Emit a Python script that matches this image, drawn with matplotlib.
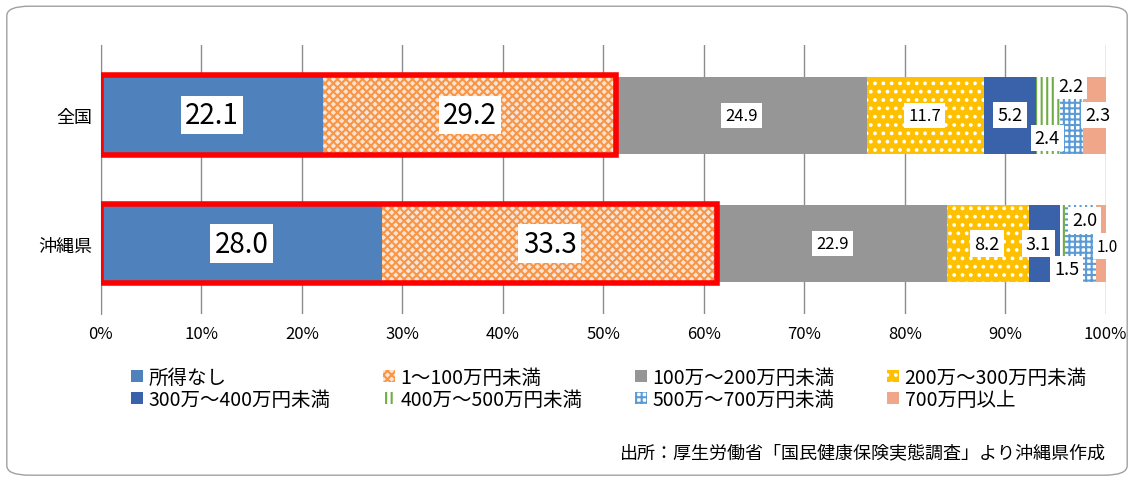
import matplotlib
matplotlib.use('Agg')
import matplotlib.pyplot as plt
from matplotlib.patches import Rectangle, FancyBboxPatch

plt.rcParams['font.family'] = ['Noto Sans CJK JP', 'DejaVu Sans']
plt.rcParams['hatch.linewidth'] = 1.5

regions = ['全国', '沖縄県']
categories = ['所得なし', '1～100万円未満', '100万～200万円未満', '200万～300万円未満',
              '300万～400万円未満', '400万～500万円未満', '500万～700万円未満', '700万円以上']
zenkoku = [22.1, 29.2, 24.9, 11.7, 5.2, 2.4, 2.2, 2.3]
okinawa = [28.0, 33.3, 22.9, 8.2, 3.1, 0.5, 3.0, 1.0]
okinawa_labels = ['28.0', '33.3', '22.9', '8.2', '3.1', '1.5', '2.0', '1.0']

faces = ['#4f81bd', '#fbe3d6', '#969696', '#ffc000', '#3a62aa', 'white', 'white', '#f0a689']
hatches = [None, 'xxxx', None, '..', None, '|||', '+++', None]
hcolors = [None, '#f79646', None, 'white', None, '#70ad47', '#5b9bd5', None]

fig = plt.figure(figsize=(11.34, 4.81), dpi=100)
frame = FancyBboxPatch((0.006, 0.01), 0.988, 0.975, boxstyle='round,pad=0,rounding_size=0.02',
                       transform=fig.transFigure, fc='white', ec='#a0a0a0', lw=1, zorder=-10)
fig.patches.append(frame)
ax = fig.add_axes([0.089, 0.345, 0.886, 0.56])
ax.set_facecolor('none')

ys = [1, 0]
data = [zenkoku, okinawa]
for y, vals in zip(ys, data):
    left = 0
    for i, v in enumerate(vals):
        ax.barh(y, v, left=left, height=0.6, color=faces[i], hatch=hatches[i],
                edgecolor=hcolors[i] if hcolors[i] else faces[i], lw=0, zorder=2)
        left += v

def lab(x, y, s, size=12):
    ax.text(x, y, s, ha='center', va='center', fontsize=size, zorder=5,
            bbox=dict(fc='white', ec='none', pad=3))

# 全国 labels
lab(11.05, 1, '22.1', 20); lab(36.7, 1, '29.2', 20)
lab(63.75, 1, '24.9'); lab(82, 1, '11.7')
lab(90.5, 1.0, '5.2', 13); lab(94.2, 0.82, '2.4', 13)
lab(96.5, 1.23, '2.2', 13); lab(99.2, 1.0, '2.3', 13)
# 沖縄県 labels
lab(14, 0, okinawa_labels[0], 20); lab(44.65, 0, okinawa_labels[1], 20)
lab(72.8, 0, okinawa_labels[2]); lab(88.2, 0, okinawa_labels[3], 13)
lab(93.3, 0, okinawa_labels[4], 13); lab(97.9, 0.18, okinawa_labels[6], 13)
lab(100.2, -0.02, okinawa_labels[7], 11); lab(96.1, -0.2, okinawa_labels[5], 13)

# red boxes
for y, vals in zip(ys, data):
    ax.add_patch(Rectangle((0, y - 0.31), vals[0] + vals[1], 0.62, fill=False, ec='#ff0000', lw=4, zorder=6))

ax.set_xlim(0, 100)
ax.set_ylim(-0.55, 1.55)
ax.set_yticks(ys)
ax.set_yticklabels(regions, fontsize=13)
ax.set_xticks(range(0, 101, 10))
ax.set_xticklabels([f'{t}%' for t in range(0, 101, 10)], fontsize=12)
ax.grid(axis='x', color='#8c8c8c', lw=1, zorder=0)
for s in ['top', 'right', 'bottom']:
    ax.spines[s].set_visible(False)
ax.spines['left'].set_color('#8c8c8c')
ax.tick_params(axis='y', length=0, pad=6)
ax.tick_params(axis='x', length=0, pad=8)

handles = [Rectangle((0, 0), 1, 1, fc=faces[i], hatch=hatches[i],
                     ec=hcolors[i] if hcolors[i] else faces[i], lw=0) for i in range(8)]
order = [0, 4, 1, 5, 2, 6, 3, 7]
fig.legend([handles[i] for i in order], [categories[i] for i in order], loc='lower left',
           bbox_to_anchor=(0.1, 0.11), ncol=4, frameon=False,
           fontsize=14, handlelength=0.6, handleheight=0.6, handletextpad=0.3, columnspacing=2.7,
           labelspacing=0.05)
fig.text(0.975, 0.04, '出所：厚生労働省「国民健康保険実態調査」より沖縄県作成', ha='right', va='bottom', fontsize=13)

fig.savefig('out.png', dpi=100)
